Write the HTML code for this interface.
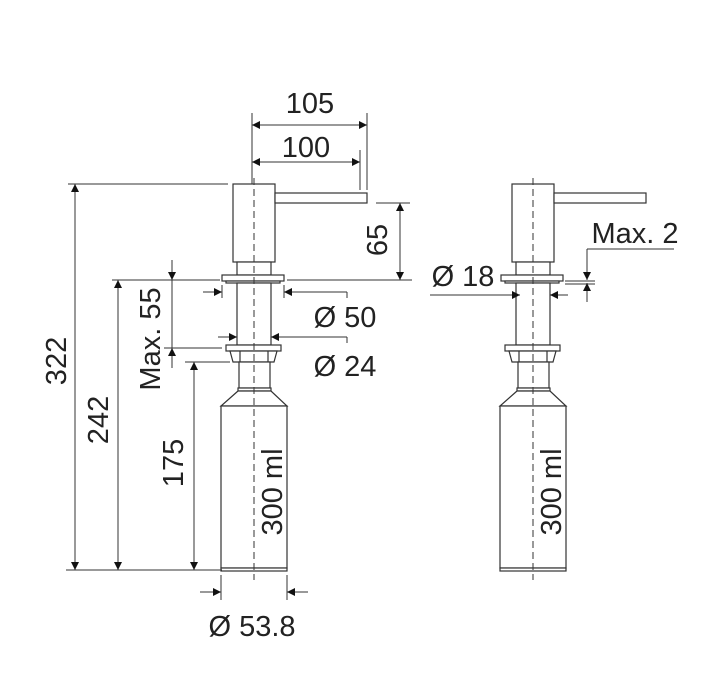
<!DOCTYPE html>
<html><head><style>body{margin:0;background:#fff}svg{display:block}text{font-family:"Liberation Sans",sans-serif;font-size:29px;fill:#222}</style></head>
<body>
<svg width="724" height="675" viewBox="0 0 724 675" xmlns="http://www.w3.org/2000/svg">
<defs>
<marker id="b" viewBox="0 0 10 10" refX="10" refY="5" markerWidth="16" markerHeight="8" orient="auto-start-reverse" markerUnits="userSpaceOnUse"><path d="M0,0L10,5L0,10z" fill="#111"/></marker>
<g id="disp" fill="#fff" stroke="#333" stroke-width="1.2">
<rect x="233" y="184" width="42" height="78"/>
<rect x="275" y="193" width="92" height="10"/>
<rect x="237" y="262" width="34" height="13"/>
<rect x="222" y="275" width="62" height="6"/>
<rect x="226" y="281" width="54" height="2"/>
<rect x="237" y="283" width="34" height="62"/>
<rect x="226" y="345" width="55" height="6"/>
<path d="M230,351h47l-3,11h-41z"/>
<line x1="240" y1="351" x2="240" y2="362"/><line x1="268" y1="351" x2="268" y2="362"/>
<rect x="239" y="362" width="31" height="26"/>
<rect x="238" y="388" width="33" height="3"/>
<path d="M238,391L221,406H287L271,391z"/>
<rect x="221" y="406" width="66" height="162"/>
<rect x="221" y="568" width="66" height="3"/>
<line x1="254" y1="178" x2="254" y2="580" stroke-dasharray="7,4" stroke-width="1"/>
</g>
</defs>
<use href="#disp"/>
<use href="#disp" transform="translate(279,0)"/>
<g stroke="#333" stroke-width="1" fill="none">
<line x1="252" y1="113" x2="252" y2="184"/><line x1="367" y1="113" x2="367" y2="190"/><line x1="360" y1="150" x2="360" y2="190"/>
<line x1="252" y1="125" x2="367" y2="125" marker-start="url(#b)" marker-end="url(#b)"/>
<line x1="252" y1="162" x2="360" y2="162" marker-start="url(#b)" marker-end="url(#b)"/>
<line x1="68" y1="184" x2="228" y2="184"/><line x1="66" y1="570" x2="222" y2="570"/>
<line x1="75" y1="184" x2="75" y2="570" marker-start="url(#b)" marker-end="url(#b)"/>
<line x1="112" y1="280" x2="220" y2="280"/>
<line x1="118" y1="280" x2="118" y2="570" marker-start="url(#b)" marker-end="url(#b)"/>
<line x1="185" y1="362" x2="230" y2="362"/>
<line x1="194" y1="362" x2="194" y2="570" marker-start="url(#b)" marker-end="url(#b)"/>
<line x1="164" y1="348" x2="222" y2="348"/>
<line x1="172" y1="260" x2="172" y2="280" marker-end="url(#b)"/>
<line x1="172" y1="280" x2="172" y2="348"/>
<line x1="172" y1="368" x2="172" y2="348" marker-end="url(#b)"/>
<line x1="287" y1="280" x2="412" y2="280"/><line x1="376" y1="203" x2="410" y2="203"/>
<line x1="400" y1="203" x2="400" y2="280" marker-start="url(#b)" marker-end="url(#b)"/>
<line x1="222" y1="285" x2="222" y2="298"/><line x1="284" y1="285" x2="284" y2="298"/>
<line x1="203" y1="292" x2="222" y2="292" marker-end="url(#b)"/>
<line x1="347" y1="298" x2="347" y2="292"/><line x1="347" y1="292" x2="284" y2="292" marker-end="url(#b)"/>
<line x1="218" y1="337" x2="237" y2="337" marker-end="url(#b)"/>
<line x1="347" y1="343" x2="347" y2="337"/><line x1="347" y1="337" x2="271" y2="337" marker-end="url(#b)"/>
<line x1="221" y1="575" x2="221" y2="600"/><line x1="287" y1="575" x2="287" y2="600"/>
<line x1="200" y1="592" x2="221" y2="592" marker-end="url(#b)"/>
<line x1="308" y1="592" x2="287" y2="592" marker-end="url(#b)"/>
<line x1="430" y1="295" x2="520" y2="295" marker-end="url(#b)"/>
<line x1="568" y1="295" x2="550" y2="295" marker-end="url(#b)"/>
<line x1="674" y1="249" x2="587" y2="249"/>
<line x1="587" y1="249" x2="587" y2="280" marker-end="url(#b)"/>
<line x1="587" y1="302" x2="587" y2="283" marker-end="url(#b)"/>
<line x1="565" y1="281" x2="595" y2="281"/><line x1="565" y1="284" x2="595" y2="284"/>
</g>
<text x="310" y="113" text-anchor="middle">105</text>
<text x="306" y="157" text-anchor="middle">100</text>
<text x="345" y="327" text-anchor="middle">Ø 50</text>
<text x="345" y="376" text-anchor="middle">Ø 24</text>
<text x="252" y="636" text-anchor="middle">Ø 53.8</text>
<text x="463" y="286" text-anchor="middle">Ø 18</text>
<text x="635" y="243" text-anchor="middle">Max. 2</text>
<text transform="translate(66,361) rotate(-90)" text-anchor="middle">322</text>
<text transform="translate(108,420) rotate(-90)" text-anchor="middle">242</text>
<text transform="translate(183,463) rotate(-90)" text-anchor="middle">175</text>
<text transform="translate(160,339) rotate(-90)" text-anchor="middle">Max. 55</text>
<text transform="translate(387,240) rotate(-90)" text-anchor="middle">65</text>
<text transform="translate(282,492) rotate(-90)" text-anchor="middle">300 ml</text>
<text transform="translate(561,492) rotate(-90)" text-anchor="middle">300 ml</text>
</svg>
</body></html>
